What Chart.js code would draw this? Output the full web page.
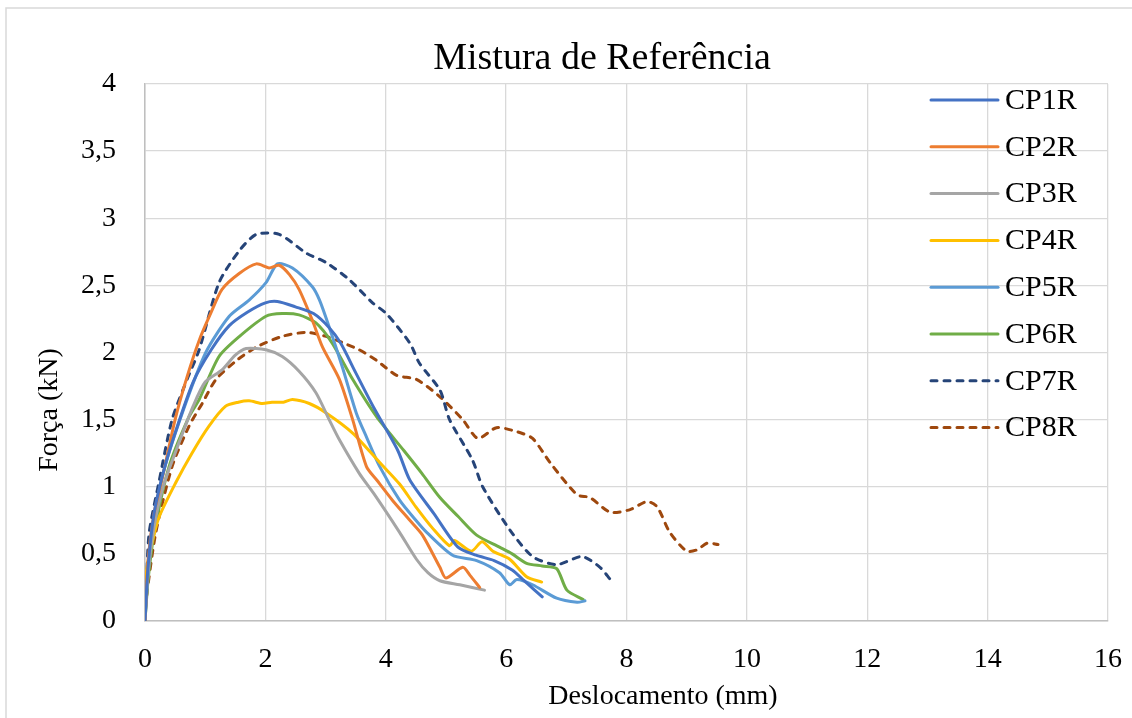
<!DOCTYPE html>
<html>
<head>
<meta charset="utf-8">
<script src="https://cdn.jsdelivr.net/npm/chart.js@4"></script>
<style>
   html, body { margin: 0; padding: 0; background: #fff; }
   #box { width: 1132px; height: 718px; }
</style>
</head>
<body>
<div id="box"><canvas id="forceChart" width="1132" height="718"></canvas></div>
<script>
// series (x = deslocamento mm, y = força kN)
const cp1x = [0, 0.05, 0.15, 0.3, 0.5, 0.8, 1.1, 1.4, 1.7, 2.0, 2.2, 2.5, 2.8, 3.05, 3.25, 3.5, 3.8, 4.2, 4.4, 4.8, 5.2, 5.5, 5.8, 6.1, 6.3, 6.6];
const cp1y = [0, 0.4, 0.8, 1.1, 1.4, 1.78, 2.02, 2.2, 2.3, 2.37, 2.38, 2.34, 2.29, 2.19, 2.07, 1.85, 1.59, 1.27, 1.05, 0.8, 0.55, 0.49, 0.45, 0.38, 0.3, 0.18];

const cp2x = [0, 0.05, 0.15, 0.28, 0.5, 0.7, 0.9, 1.1, 1.28, 1.57, 1.85, 2.06, 2.23, 2.4, 2.56, 2.78, 2.95, 3.23, 3.45, 3.68, 3.85, 4.11, 4.4, 4.61, 4.9, 5.0, 5.28, 5.4, 5.56];
const cp2y = [0, 0.45, 0.8, 1.05, 1.5, 1.82, 2.09, 2.3, 2.47, 2.59, 2.66, 2.63, 2.65, 2.58, 2.47, 2.24, 2.04, 1.8, 1.5, 1.15, 1.05, 0.9, 0.75, 0.64, 0.4, 0.32, 0.4, 0.34, 0.25];

const cp3x = [0, 0.05, 0.15, 0.3, 0.5, 0.8, 1.0, 1.28, 1.5, 1.68, 2.01, 2.28, 2.56, 2.84, 3.06, 3.23, 3.56, 3.8, 4.23, 4.51, 4.7, 4.9, 5.23, 5.64];
const cp3y = [0, 0.35, 0.7, 1.0, 1.25, 1.6, 1.78, 1.87, 1.98, 2.03, 2.02, 1.97, 1.86, 1.7, 1.5, 1.35, 1.1, 0.95, 0.66, 0.46, 0.36, 0.3, 0.27, 0.23];

const cp4x = [0, 0.02, 0.1, 0.23, 0.51, 0.78, 1.06, 1.34, 1.55, 1.73, 1.95, 2.11, 2.3, 2.45, 2.73, 3.01, 3.45, 3.9, 4.23, 4.5, 4.78, 5.06, 5.14, 5.42, 5.6, 5.78, 6.06, 6.34, 6.59];
const cp4y = [0, 0.35, 0.55, 0.77, 1.03, 1.25, 1.45, 1.6, 1.63, 1.64, 1.62, 1.63, 1.63, 1.65, 1.62, 1.55, 1.4, 1.18, 1.02, 0.85, 0.69, 0.56, 0.6, 0.52, 0.59, 0.52, 0.46, 0.33, 0.29];

const cp5x = [0, 0.05, 0.15, 0.3, 0.62, 1.01, 1.4, 1.73, 2.01, 2.2, 2.45, 2.78, 2.9, 3.06, 3.28, 3.51, 3.68, 3.9, 4.23, 4.5, 4.68, 5.11, 5.51, 5.89, 6.06, 6.18, 6.44, 6.84, 7.18, 7.31];
const cp5y = [0, 0.35, 0.75, 1.1, 1.55, 2.0, 2.27, 2.39, 2.52, 2.66, 2.63, 2.49, 2.39, 2.19, 1.89, 1.55, 1.37, 1.15, 0.9, 0.75, 0.66, 0.49, 0.45, 0.36, 0.27, 0.31, 0.27, 0.17, 0.14, 0.15];

const cp6x = [0, 0.05, 0.15, 0.4, 0.73, 0.9, 1.23, 1.57, 2.01, 2.28, 2.56, 2.84, 3.11, 3.45, 3.85, 4.3, 4.6, 4.9, 5.2, 5.51, 5.89, 6.1, 6.34, 6.6, 6.84, 7.01, 7.28];
const cp6y = [0, 0.3, 0.65, 1.15, 1.52, 1.65, 1.97, 2.12, 2.27, 2.29, 2.28, 2.22, 2.07, 1.8, 1.52, 1.27, 1.1, 0.92, 0.78, 0.64, 0.55, 0.5, 0.43, 0.41, 0.39, 0.23, 0.16];

const cp7x = [0, 0.03, 0.07, 0.23, 0.45, 0.7, 0.9, 1.23, 1.57, 1.85, 2.23, 2.68, 3.01, 3.4, 3.78, 4.01, 4.4, 4.56, 4.9, 5.06, 5.44, 5.61, 6.06, 6.44, 6.84, 7.26, 7.56, 7.73];
const cp7y = [0, 0.35, 0.66, 1.03, 1.5, 1.8, 2.02, 2.52, 2.76, 2.88, 2.88, 2.74, 2.67, 2.54, 2.37, 2.29, 2.07, 1.92, 1.72, 1.5, 1.2, 1.0, 0.68, 0.48, 0.42, 0.48, 0.4, 0.31];

const cp8x = [0, 0.02, 0.18, 0.45, 0.73, 0.95, 1.18, 1.52, 1.85, 2.28, 2.68, 3.01, 3.3, 3.56, 3.85, 4.18, 4.51, 4.9, 5.28, 5.53, 5.84, 6.18, 6.44, 6.73, 7.18, 7.39, 7.73, 8.06, 8.34, 8.51, 8.72, 9.0, 9.17, 9.34, 9.52];
const cp8y = [0, 0.16, 0.66, 1.15, 1.45, 1.62, 1.8, 1.94, 2.04, 2.12, 2.15, 2.12, 2.07, 2.02, 1.94, 1.83, 1.8, 1.67, 1.5, 1.36, 1.44, 1.41, 1.36, 1.18, 0.94, 0.92, 0.81, 0.83, 0.89, 0.85, 0.66, 0.52, 0.53, 0.58, 0.57];

const seriesNames = ['CP1R', 'CP2R', 'CP3R', 'CP4R', 'CP5R', 'CP6R', 'CP7R', 'CP8R'];
const xTicks = [0, 2, 4, 6, 8, 10, 12, 14, 16];
const yTicks = [0, 0.5, 1, 1.5, 2, 2.5, 3, 3.5, 4];

const seriesX = [cp1x, cp2x, cp3x, cp4x, cp5x, cp6x, cp7x, cp8x];
const seriesY = [cp1y, cp2y, cp3y, cp4y, cp5y, cp6y, cp7y, cp8y];
const colors = ['#4472C4', '#ED7D31', '#A5A5A5', '#FFC000', '#5B9BD5', '#70AD47', '#264478', '#9E480E'];
const dashed = [false, false, false, false, false, false, true, true];

const serif = "'Liberation Serif', 'Times New Roman', serif";

function toPoints(xs, ys) {
   return xs.map((x, i) => ({ x: x, y: ys[i] }));
}

const datasets = seriesNames.map((name, i) => ({
   label: name,
   data: toPoints(seriesX[i], seriesY[i]),
   borderColor: colors[i],
   backgroundColor: colors[i],
   borderWidth: 3,
   borderDash: dashed[i] ? [6, 7] : [],
   borderCapStyle: 'round',
   borderJoinStyle: 'round',
   pointRadius: 0,
   tension: 0.25,
   fill: false
}));

// title, axis titles, legend and outer frame drawn like the Excel layout
const excelLayout = {
   id: 'excelLayout',
   beforeDraw(chart) {
      const c = chart.ctx;
      c.save();
      c.fillStyle = '#fff';
      c.fillRect(0, 0, chart.width, chart.height);
      c.strokeStyle = '#d9d9d9';
      c.lineWidth = 1.5;
      c.strokeRect(6, 8, chart.width + 20, chart.height + 20);
      c.restore();
   },
   afterDraw(chart) {
      const c = chart.ctx;
      c.save();
      c.fillStyle = '#000';
      c.textAlign = 'center';
      c.textBaseline = 'middle';
      c.font = '38px ' + serif;
      c.fillText('Mistura de Referência', 602, 59);

      c.font = '28px ' + serif;
      c.fillText('Deslocamento (mm)', 663, 697);

      c.save();
      c.translate(50, 410);
      c.rotate(-Math.PI / 2);
      c.fillText('Força (kN)', 0, 0);
      c.restore();

      // legend
      c.textAlign = 'left';
      c.font = '30px ' + serif;
      chart.data.datasets.forEach((ds, i) => {
         const y = 100 + i * 46.8;
         c.strokeStyle = ds.borderColor;
         c.lineWidth = 3;
         c.lineCap = 'round';
         c.setLineDash(ds.borderDash.length ? [6, 7] : []);
         c.beginPath();
         c.moveTo(931, y);
         c.lineTo(998, y);
         c.stroke();
         c.setLineDash([]);
         c.fillText(ds.label, 1005, y + 1);
      });
      c.restore();
   }
};

const ctx = document.getElementById('forceChart').getContext('2d');
const forceChart = new Chart(ctx, {
   type: 'line',
   data: { datasets: datasets },
   options: {
      responsive: false,
      animation: false,
      layout: { padding: { top: 84, right: 24, bottom: 0, left: 0 } },
      plugins: {
         legend: { display: false },
         title: { display: false },
         tooltip: { enabled: false }
      },
      scales: {
         x: {
            type: 'linear',
            min: 0,
            max: 16,
            afterFit: (s) => { s.height = 97; s.paddingLeft = 0; s.paddingRight = 0; },
            afterBuildTicks: (s) => { s.ticks = xTicks.map(v => ({ value: v })); },
            grid: { color: '#d9d9d9', lineWidth: 1.3, drawTicks: false },
            border: { color: '#bfbfbf', width: 1.5 },
            ticks: {
               padding: 22,
               color: '#000',
               font: { family: serif, size: 28 },
               maxRotation: 0
            }
         },
         y: {
            type: 'linear',
            min: 0,
            max: 4,
            afterFit: (s) => { s.width = 145; s.paddingTop = 0; s.paddingBottom = 0; },
            afterBuildTicks: (s) => { s.ticks = yTicks.map(v => ({ value: v })); },
            grid: { color: '#d9d9d9', lineWidth: 1.3, drawTicks: false },
            border: { color: '#bfbfbf', width: 1.5 },
            ticks: {
               padding: 29,
               color: '#000',
               font: { family: serif, size: 28 },
               callback: (v) => String(v).replace('.', ',')
            }
         }
      }
   },
   plugins: [excelLayout]
});
</script>
</body>
</html>
